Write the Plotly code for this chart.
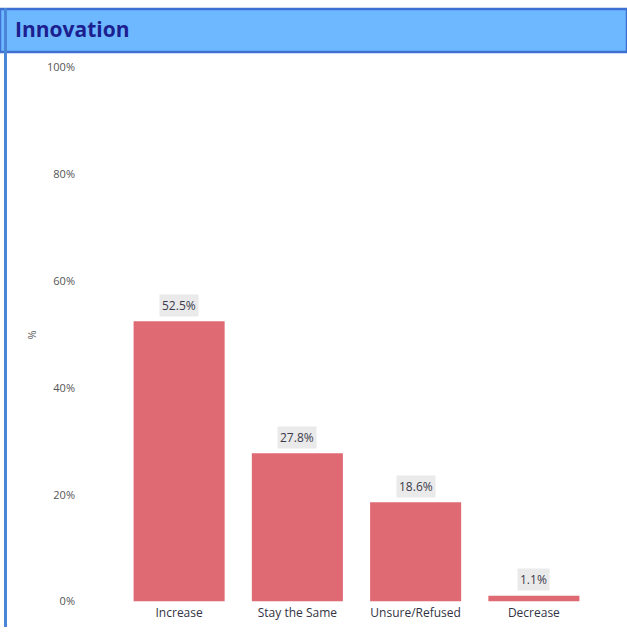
import plotly.graph_objects as go

# Survey responses: expected change in innovation
categories = ["Increase", "Stay the Same", "Unsure/Refused", "Decrease"]
shares = [52.5, 27.8, 18.6, 1.1]
tick_values = [0, 20, 40, 60, 80, 100]
tick_labels = ["0%", "20%", "40%", "60%", "80%", "100%"]
chart_title = "Innovation"

W, H = 627, 634
bar_color = "#E06A73"
font_family = "Open Sans, Noto Sans, sans-serif"

fig = go.Figure()
fig.add_trace(go.Bar(
    x=categories,
    y=shares,
    marker=dict(color=bar_color, line=dict(width=0)),
    width=0.77,
    hoverinfo="skip",
))

# Value labels in light grey boxes above each bar
annotations = []
for cat, val in zip(categories, shares):
    annotations.append(dict(
        x=cat, y=val, xref="x", yref="y",
        text=f"{val:.1f}%", showarrow=False,
        yshift=16, bgcolor="#EAEAEA", borderpad=2,
        font=dict(family=font_family, size=12, color="#3A3A4A"),
    ))

# Axis title
annotations.append(dict(
    x=22 / W, y=1 - 335 / H, xref="paper", yref="paper",
    text="%", showarrow=False, textangle=-90,
    font=dict(family=font_family, size=11, color="#555555"),
))

# Header title
annotations.append(dict(
    x=13 / W, y=1 - 22 / H, xref="paper", yref="paper",
    xanchor="left", yanchor="middle",
    text=f"<b>{chart_title}</b>", showarrow=False,
    font=dict(family=font_family, size=21, color="#1C1F8F"),
))

shapes = [
    # header band
    dict(type="rect", xref="paper", yref="paper",
         x0=0, x1=1, y0=1 - 45 / H, y1=1 - 1 / H,
         fillcolor="#6EB8FF", line=dict(color="#3E6FD2", width=2.5), layer="below"),
    # left frame line
    dict(type="line", xref="paper", yref="paper",
         x0=5.5 / W, x1=5.5 / W, y0=0, y1=1,
         line=dict(color="#4A86D8", width=3)),
]

fig.update_layout(
    width=W, height=H,
    margin=dict(l=0, r=0, t=0, b=0),
    paper_bgcolor="white", plot_bgcolor="white",
    showlegend=False,
    bargap=0.23,
    annotations=annotations,
    shapes=shapes,
    xaxis=dict(
        domain=[120 / W, 593 / W],
        showgrid=False, showline=False, zeroline=False, ticks="",
        tickfont=dict(family=font_family, size=12, color="#333344"),
        ticklabelstandoff=2,
        fixedrange=True,
    ),
    yaxis=dict(
        domain=[1 - 608 / H, 1 - 61 / H],
        range=[0, 100],
        tickvals=tick_values, ticktext=tick_labels,
        showgrid=False, showline=False, zeroline=False, ticks="",
        tickfont=dict(family=font_family, size=11, color="#555555"),
        ticklabelstandoff=44,
        fixedrange=True,
    ),
)

fig.write_html("out.html", config={"displayModeBar": False})
